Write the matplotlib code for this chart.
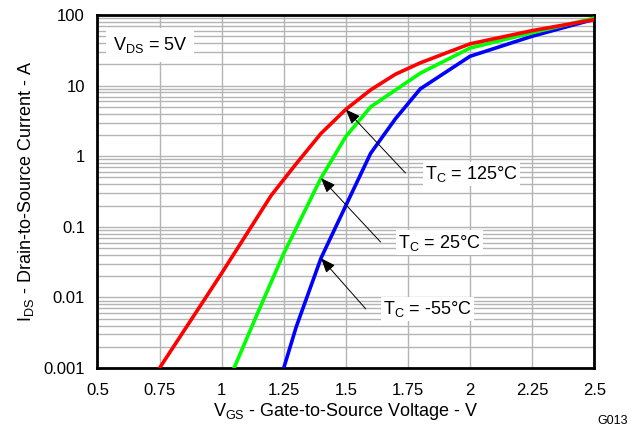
import matplotlib
matplotlib.use("Agg")
import matplotlib.pyplot as plt
from matplotlib.ticker import FixedLocator, NullFormatter, LogLocator

plt.rcParams['font.family'] = ['Liberation Sans', 'DejaVu Sans']
plt.rcParams['mathtext.fontset'] = 'custom'
plt.rcParams['mathtext.rm'] = 'Liberation Sans'

# transfer characteristics
vgs_125 = [0.75, 1.0, 1.2, 1.3, 1.4, 1.5, 1.6, 1.7, 1.8, 2.0, 2.25, 2.5]
ids_125 = [0.001, 0.022, 0.28, 0.78, 2.1, 4.6, 8.7, 14.5, 21, 39, 60, 86]

vgs_25 = [1.05, 1.15, 1.25, 1.3, 1.4, 1.5, 1.6, 1.8, 2.0, 2.25, 2.5]
ids_25 = [0.001, 0.0066, 0.042, 0.095, 0.49, 1.9, 5.0, 15, 34, 56, 90]

vgs_m55 = [1.25, 1.3, 1.4, 1.5, 1.6, 1.7, 1.8, 2.0, 2.25, 2.5]
ids_m55 = [0.001, 0.0038, 0.036, 0.2, 1.1, 3.4, 9.0, 26, 50, 87]

x_ticks = [0.5, 0.75, 1, 1.25, 1.5, 1.75, 2, 2.25, 2.5]
x_labels = ['0.5', '0.75', '1', '1.25', '1.5', '1.75', '2', '2.25', '2.5']
y_ticks = [0.001, 0.01, 0.1, 1, 10, 100]
y_labels = ['0.001', '0.01', '0.1', '1', '10', '100']

fig = plt.figure(figsize=(6.41, 4.28), dpi=100)
ax = fig.add_axes([0.152, 0.140, 0.775, 0.825])

ax.plot(vgs_m55, ids_m55, color='#0000FF', lw=2.6, solid_joinstyle='miter', zorder=3)
ax.plot(vgs_25, ids_25, color='#00FF00', lw=2.6, solid_joinstyle='miter', zorder=3)
ax.plot(vgs_125, ids_125, color='#FF0000', lw=2.6, solid_joinstyle='miter', zorder=3)

ax.set_yscale('log')
ax.set_xlim(0.5, 2.5)
ax.set_ylim(0.001, 100)
ax.xaxis.set_major_locator(FixedLocator(x_ticks))
ax.set_xticklabels(x_labels)
ax.yaxis.set_major_locator(FixedLocator(y_ticks))
ax.set_yticklabels(y_labels)
ax.yaxis.set_minor_locator(LogLocator(base=10, subs=range(2, 10), numticks=20))
ax.yaxis.set_minor_formatter(NullFormatter())
ax.tick_params(which='both', length=0, labelsize=12, colors='black')
ax.tick_params(axis='x', pad=11)
ax.tick_params(axis='y', pad=9)

ax.grid(True, which='major', color='#b4b4b4', lw=1.0, zorder=0)
ax.grid(True, which='minor', axis='y', color='#b4b4b4', lw=1.0, zorder=0)
for s in ax.spines.values():
    s.set_linewidth(2.0)
    s.set_color('black')

ax.set_xlabel(r'$\mathregular{V_{GS}}$ - Gate-to-Source Voltage - V', fontsize=13, labelpad=2)
ax.set_ylabel(r'$\mathregular{I_{DS}}$ - Drain-to-Source Current - A', fontsize=13, labelpad=5)

ax.text(0.5625, 38, r'$\mathregular{V_{DS}}$ = 5V', fontsize=13, ha='left', va='center',
        bbox=dict(facecolor='white', edgecolor='none', pad=5), zorder=4)

# temperature callouts: arrow from tail to curve, text box beside the tail
callouts = [
    (r'$\mathregular{T_C}$ = 125°C', (1.5, 4.6), (1.74, 0.58), (1.82, 0.56)),
    (r'$\mathregular{T_C}$ = 25°C', (1.4, 0.49), (1.64, 0.061), (1.71, 0.06)),
    (r'$\mathregular{T_C}$ = -55°C', (1.4, 0.036), (1.58, 0.0069), (1.65, 0.0068)),
]
arrow = dict(arrowstyle='-|>,head_length=0.9,head_width=0.35', color='black', lw=0.7,
             shrinkA=0, shrinkB=0)
for label, tip, tail, pos in callouts:
    ax.annotate('', xy=tip, xytext=tail, arrowprops=arrow, zorder=4)
    ax.text(pos[0], pos[1], label, fontsize=13, ha='left', va='center',
            bbox=dict(facecolor='white', edgecolor='none', pad=1.5), zorder=4)

fig.text(0.980, 0.016, 'G013', fontsize=9, ha='right', va='center')

fig.savefig('out.png', dpi=100)
